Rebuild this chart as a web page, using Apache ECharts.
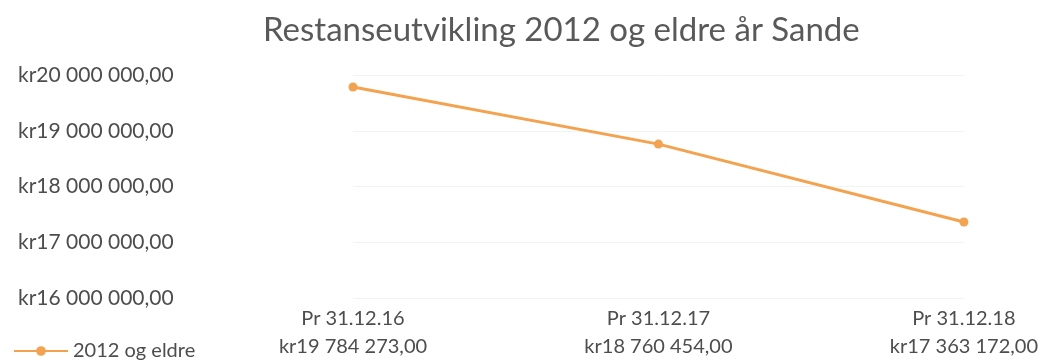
<!DOCTYPE html>
<html>
<head>
<meta charset="utf-8">
<script src="https://cdn.jsdelivr.net/npm/echarts@6/dist/echarts.min.js"></script>
<style>
  html, body { margin: 0; padding: 0; background: #fff; }
  #chart { width: 1041px; height: 360px; }
</style>
</head>
<body>
<div id="chart"></div>
<script>
// Outstanding arrears for 2012 and older, Sande
const titleText = 'Restanseutvikling 2012 og eldre år Sande';
const seriesName = '2012 og eldre';
const categories = ['Pr 31.12.16', 'Pr 31.12.17', 'Pr 31.12.18'];
const values = [19784273.00, 18760454.00, 17363172.00];
const yMin = 16000000;
const yMax = 20000000;
const yStep = 1000000;

// Norwegian currency style: kr19 784 273,00
function kr(v) {
  const fixed = Math.abs(v).toFixed(2);
  const parts = fixed.split('.');
  const intPart = parts[0].replace(/\B(?=(\d{3})+(?!\d))/g, ' ');
  return 'kr' + intPart + ',' + parts[1];
}

const textColor = '#4d4d4d';
const fontFamily = 'Lato, "Open Sans", sans-serif';

const chart = echarts.init(document.getElementById('chart'));
chart.setOption({
  backgroundColor: '#ffffff',
  animation: false,
  title: {
    text: titleText,
    left: 258,
    top: 9,
    textStyle: { color: '#595959', fontSize: 33, fontWeight: 'normal', fontFamily: fontFamily }
  },
  legend: {
    data: [seriesName],
    left: 8,
    top: 336,
    itemWidth: 54,
    itemHeight: 12,
    itemGap: 6,
    textStyle: { color: textColor, fontSize: 20, fontFamily: fontFamily }
  },
  grid: { left: 353, right: 76, top: 75, bottom: 62 },
  xAxis: {
    type: 'category',
    data: categories,
    boundaryGap: false,
    axisLine: { show: false },
    axisTick: { show: false },
    splitLine: { show: false },
    axisLabel: {
      margin: 7,
      interval: 0,
      formatter: function (val, idx) {
        return '{c|' + val + '}\n{v|' + kr(values[idx]) + '}';
      },
      rich: {
        c: { color: textColor, fontSize: 20, lineHeight: 28, fontFamily: fontFamily },
        v: { color: textColor, fontSize: 20, lineHeight: 28, fontFamily: fontFamily }
      }
    }
  },
  yAxis: {
    type: 'value',
    min: yMin,
    max: yMax,
    interval: yStep,
    axisLine: { show: false },
    axisTick: { show: false },
    splitLine: { show: true, lineStyle: { color: '#f3f3f3', width: 1 } },
    axisLabel: {
      align: 'left',
      margin: 335,
      color: textColor,
      fontSize: 21,
      fontFamily: fontFamily,
      formatter: function (v) { return kr(v); }
    }
  },
  series: [{
    name: seriesName,
    type: 'line',
    data: values,
    symbol: 'circle',
    symbolSize: 9,
    lineStyle: { color: '#f4a24e', width: 3 },
    itemStyle: { color: '#f4a24e' }
  }]
});
</script>
</body>
</html>
